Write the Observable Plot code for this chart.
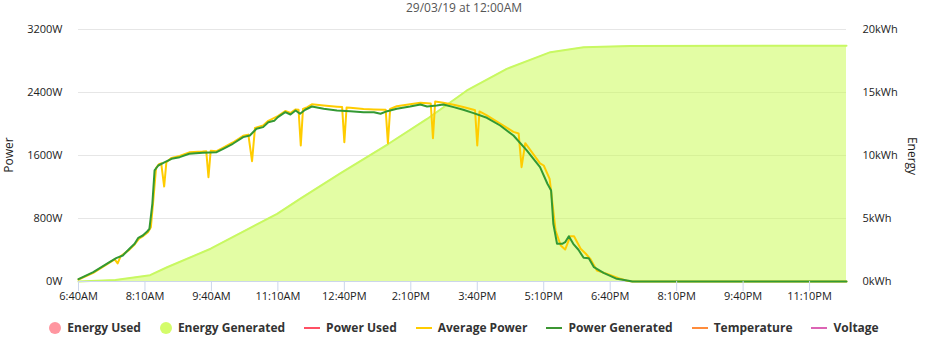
<!DOCTYPE html>
<html>
<head>
<meta charset="utf-8">
<script src="https://cdn.jsdelivr.net/npm/d3@7"></script>
<script src="https://cdn.jsdelivr.net/npm/@observablehq/plot@0.6"></script>
<style>
  body { margin: 0; background: #fff; font-family: "Open Sans", sans-serif; }
  #wrap { position: relative; width: 928px; height: 350px; overflow: hidden; }
  #title { position: absolute; top: 1px; left: 0; width: 928px; text-align: center; font-size: 12px; line-height: 13px; color: #555; }
  #chart { position: absolute; top: 14px; left: 0; }
  .axt { position: absolute; font-size: 12px; line-height: 16px; color: #222; white-space: nowrap; }
  #legend { position: absolute; top: 320px; left: 0; width: 928px; display: flex; justify-content: center; gap: 19px;
            font-weight: bold; font-size: 12px; color: #333; line-height: 16px; }
  .it { display: flex; align-items: center; }
  .dot { width: 12px; height: 12px; border-radius: 50%; margin-right: 6px; }
  .ln { width: 16px; height: 2px; margin-right: 6px; }
</style>
</head>
<body>
<div id="wrap">
  <div id="title">29/03/19 at 12:00AM</div>
  <div id="chart"></div>
  <div class="axt" style="left:9px;top:155px;transform:translate(-50%,-50%) rotate(-90deg);">Power</div>
  <div class="axt" style="left:912px;top:156px;transform:translate(-50%,-50%) rotate(90deg);">Energy</div>
  <div id="legend"></div>
</div>
<script>
// ---- data ----
const powerTicks = [0, 800, 1600, 2400, 3200];
const energyTicks = [0, 5, 10, 15, 20];
const xTickTimes = ["6:40","8:10","9:40","11:10","12:40","14:10","15:40","17:10","18:40","20:10","21:40","23:10"];

const genTimes = ["6:40","7:00","7:22","7:31","7:40","7:49","7:56","8:01","8:07","8:13","8:16","8:20","8:23","8:28","8:37","8:46","8:57","9:10","9:28","9:47","9:56","10:09","10:23","10:32","10:41","10:50","10:57","11:05","11:10","11:20","11:27","11:34","11:40","11:47","11:56","12:12","12:30","12:48","13:06","13:20","13:29","13:38","13:51","14:09","14:23","14:32","14:45","14:54","15:08","15:21","15:35","15:53","16:11","16:29","16:47","17:05","17:15","17:20","17:23","17:28","17:35","17:39","17:44","17:50","17:57","18:04","18:11","18:18","18:31","18:49","19:03","19:10","24:00"];
const genPower = [30,118,245,296,330,415,479,555,584,635,669,987,1410,1473,1515,1558,1579,1622,1634,1642,1685,1749,1833,1854,1939,1960,2023,2040,2087,2150,2121,2172,2130,2181,2222,2193,2172,2163,2150,2150,2130,2163,2193,2222,2248,2222,2235,2248,2214,2180,2138,2079,1981,1854,1664,1452,1241,1156,733,479,479,499,575,479,403,301,296,182,110,34,13,0,0];

const avgTimes = ["6:40","7:00","7:22","7:29","7:33","7:37","7:49","7:56","8:02","8:08","8:14","8:18","8:21","8:25","8:29","8:32","8:36","8:39","8:46","8:57","9:10","9:28","9:33","9:36","9:39","9:47","9:56","10:09","10:23","10:30","10:35","10:39","10:50","10:57","11:10","11:20","11:27","11:34","11:38","11:41","11:44","11:50","11:56","12:12","12:30","12:37","12:40","12:43","12:48","13:06","13:20","13:36","13:39","13:42","13:51","14:09","14:23","14:37","14:40","14:43","14:54","15:08","15:21","15:35","15:37","15:40","15:43","15:53","16:11","16:29","16:36","16:40","16:45","17:05","17:10","17:18","17:26","17:33","17:39","17:46","17:51","18:00","18:07","18:13","18:22","18:36","18:54","19:03","19:10","24:00"];
const avgPower = [25,110,240,280,230,320,405,470,545,580,625,690,1000,1440,1490,1500,1206,1515,1570,1595,1640,1650,1655,1325,1660,1655,1700,1765,1850,1865,1528,1950,1980,2040,2100,2165,2140,2185,2180,1727,2190,2215,2250,2235,2220,2215,1769,2210,2205,2190,2185,2180,1756,2190,2225,2250,2270,2260,1820,2285,2270,2245,2215,2180,2175,1727,2160,2110,2005,1900,1880,1452,1757,1500,1473,1304,648,457,406,575,575,415,352,288,140,97,34,8,0,0];

const energyTimes = ["6:40","7:30","8:17","8:40","9:39","10:34","11:09","11:40","12:35","13:40","14:32","15:26","16:20","17:19","18:04","19:07","24:00"];
const energyKWh = [0,0.12,0.5,1.13,2.6,4.3,5.37,6.56,8.6,10.93,12.9,15.16,16.88,18.2,18.6,18.7,18.72];

const legendItems = [
  {label: "Energy Used", color: "#ff96a0", kind: "dot"},
  {label: "Energy Generated", color: "#d4fc6a", kind: "dot"},
  {label: "Power Used", color: "#ff5064", kind: "ln"},
  {label: "Average Power", color: "#ffcc00", kind: "ln"},
  {label: "Power Generated", color: "#3c9632", kind: "ln"},
  {label: "Temperature", color: "#ff8c3c", kind: "ln"},
  {label: "Voltage", color: "#dc64b4", kind: "ln"}
];

// ---- helpers ----
const toMin = s => { const [h, m] = s.split(":").map(Number); return h * 60 + m; };
const fmt = m => {
  const h = Math.floor(m / 60) % 24, mm = m % 60;
  const ap = h < 12 ? "AM" : "PM";
  let hh = h % 12; if (hh === 0) hh = 12;
  return `${hh}:${String(mm).padStart(2, "0")}${ap}`;
};
const KW_PER_KWH = 3200 / 20; // right axis mapped onto the power scale

const gen = genTimes.map((t, i) => ({t: toMin(t), v: genPower[i]}));
const avg = avgTimes.map((t, i) => ({t: toMin(t), v: avgPower[i]}));
const energy = energyTimes.map((t, i) => ({t: toMin(t), v: energyKWh[i] * KW_PER_KWH}));

const chart = Plot.plot({
  width: 928,
  height: 300,
  marginLeft: 78,
  marginRight: 82,
  marginTop: 15,
  marginBottom: 33,
  style: {fontFamily: "'Open Sans', sans-serif", fontSize: "11px", color: "#222", background: "white"},
  x: {domain: [toMin("6:40"), 24 * 60]},
  y: {domain: [0, 3200]},
  marks: [
    Plot.gridY(powerTicks.filter(d => d > 0), {stroke: "#e6e6e6", strokeOpacity: 1}),
    Plot.areaY(energy, {x: "t", y: "v", fill: "#c8fc4a", fillOpacity: 0.5}),
    Plot.lineY(energy, {x: "t", y: "v", stroke: "#c8f862", strokeWidth: 2}),
    Plot.ruleY([0], {stroke: "#ccd6eb"}),
    Plot.lineY(avg, {x: "t", y: "v", stroke: "#ffcc00", strokeWidth: 2}),
    Plot.lineY(gen, {x: "t", y: "v", stroke: "#339933", strokeWidth: 2}),
    Plot.axisX(xTickTimes.map(toMin), {tickSize: 10, tickPadding: 1, stroke: "#ccd6eb", tickFormat: fmt, label: null}),
    Plot.axisY(powerTicks, {anchor: "left", tickSize: 0, tickPadding: 16, tickFormat: d => d + "W", label: null}),
    Plot.axisY(energyTicks.map(d => d * KW_PER_KWH), {anchor: "right", tickSize: 0, tickPadding: 16, tickFormat: d => (d / KW_PER_KWH) + "kWh", label: null})
  ]
});
document.getElementById("chart").appendChild(chart);

const lg = document.getElementById("legend");
for (const it of legendItems) {
  const s = document.createElement("span"); s.className = "it";
  const sym = document.createElement("span"); sym.className = it.kind; sym.style.background = it.color;
  s.appendChild(sym); s.appendChild(document.createTextNode(it.label));
  lg.appendChild(s);
}
</script>
</body>
</html>
